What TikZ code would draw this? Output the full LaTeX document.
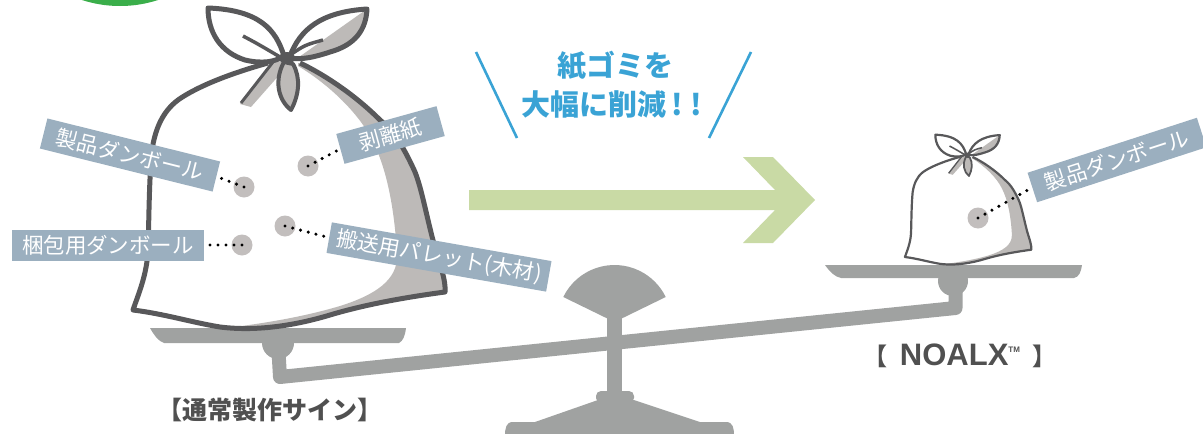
\documentclass[tikz,border=0pt]{standalone}
\usepackage{fontspec}
\newfontfamily\jpfont{Noto Sans CJK JP}
\newfontfamily\latinfont{Liberation Sans}

\definecolor{brandgreen}{HTML}{3AAE4A}
\definecolor{arrowgreen}{HTML}{C9DAA5}
\definecolor{headblue}{HTML}{3AA3D5}
\definecolor{sackline}{HTML}{58585A}
\definecolor{sackshade}{HTML}{BDBAB8}
\definecolor{tagblue}{HTML}{9BAFBF}
\definecolor{spotgray}{HTML}{C2BEBD}
\definecolor{scalegray}{HTML}{A0A2A1}
\definecolor{captiongray}{HTML}{505050}

% outline of the sack body (open at the neck)
\def\sackbody{(268,63) .. controls (225,75) and (195,88) .. (178,100)
  .. controls (162,112) and (155,130) .. (152,150)
  .. controls (149,180) and (149,220) .. (148,250)
  .. controls (147,275) and (138,295) .. (133,310)
  .. controls (165,314) and (190,322) .. (220,327)
  .. controls (260,332) and (300,324) .. (330,315)
  .. controls (370,303) and (415,296) .. (445,292)
  .. controls (446,280) and (440,265) .. (435,248)
  .. controls (425,210) and (422,190) .. (415,172)
  .. controls (405,150) and (395,132) .. (380,120)
  .. controls (355,95) and (325,75) .. (300,63)}
\def\leftear{(284,56) .. controls (276,30) and (260,10) .. (208,8)
  .. controls (208,32) and (220,52) .. (245,60)
  .. controls (262,64) and (275,62) .. (284,56)}
\def\rightear{(290,56) .. controls (300,30) and (320,12) .. (367,9)
  .. controls (366,30) and (355,45) .. (330,52)
  .. controls (315,57) and (302,60) .. (290,58)}

% a tied sack; #1 = outline width
\newcommand\drawsack[1]{%
  \fill[white] \sackbody -- cycle;
  \begin{scope}
    \clip \sackbody -- cycle;
    \fill[sackshade] (298,66) .. controls (330,85) and (360,115) .. (372,140)
      .. controls (388,170) and (395,215) .. (397,255)
      .. controls (398,280) and (375,295) .. (340,306)
      .. controls (300,318) and (250,326) .. (205,330)
      -- (205,345) -- (470,345) -- (470,40) -- (298,40) -- cycle;
  \end{scope}
  \draw[sackline, line width=#1, line join=round] \sackbody;
  % hanging ends of the tie
  \fill[sackshade] (274,60) -- (289,64) -- (251,107) -- (240,104) -- cycle;
  \draw[sackline, line width=0.6*#1] (273,62) -- (241,103);
  \filldraw[fill=sackshade, draw=sackline, line width=0.8*#1, line join=round]
    (284,62) .. controls (274,80) and (278,100) .. (291,110)
    .. controls (299,95) and (301,78) .. (293,64) -- cycle;
  % ears of the tie
  \filldraw[fill=white, draw=sackline, line width=#1, line join=round] \leftear -- cycle;
  \draw[sackline, line width=0.7*#1] (243,36) .. controls (258,44) .. (280,57);
  \fill[white] \rightear -- cycle;
  \begin{scope}
    \clip \rightear -- cycle;
    \fill[sackshade] (292,62) -- (367,9) -- (372,64) -- cycle;
  \end{scope}
  \draw[sackline, line width=#1, line join=round] \rightear -- cycle;
  \draw[sackline, line width=0.7*#1] (323,40) .. controls (305,45) .. (290,55);
  \fill[sackline] (287,58) ellipse (8 and 6);
}

\begin{document}
\begin{tikzpicture}[x=1pt, y=-1pt,
  tag/.style={fill=tagblue, text=white, inner xsep=0pt, inner ysep=0pt,
    minimum height=31pt, font=\jpfont\fontsize{21.5}{22}\selectfont},
  spot/.style={circle, fill=spotgray, minimum size=21pt, inner sep=0pt},
  leader/.style={line width=3.4pt, dash pattern=on 0pt off 8pt, line cap=round, black},
  scalepart/.style={fill=scalegray},
  headline/.style={text=headblue, font=\jpfont\bfseries\fontsize{29}{30}\selectfont},
  slash/.style={draw=headblue, line width=2.6pt}]
\useasboundingbox (0,0) rectangle (1203,434);

% corner badge
\fill[brandgreen] (120,-117) circle (123);

% balance: stand
\fill[scalepart] (614.5,322) -- +(206:57) arc[start angle=206, end angle=334, radius=57] -- cycle;
\draw[scalegray, line width=15pt] (614.5,318) -- (614.5,396);
\fill[scalepart, rounded corners=5pt] (596,391) rectangle (634,403);
\fill[scalepart] (598,400) -- (634,400) -- (700,422) -- (726,422)
  .. controls (733,422) and (734,428) .. (734,436) -- (505,436)
  .. controls (505,428) and (506,422) .. (513,422) -- (535,422) -- cycle;
% balance: beam, stems, knobs and pans
\draw[scalegray, line width=14pt, line join=round]
  (278,343) -- (280,377) -- (955.5,308) -- (955.5,283);
\fill[scalepart] (278,343) circle (16);
\fill[scalepart] (953,281) circle (15);
\fill[scalepart] (150,328) -- (406,328) .. controls (405,336) and (403,341) .. (399,343)
  -- (164,343) .. controls (158,341) and (154,335) .. (150,328) -- cycle;
\fill[scalepart] (825,265) -- (1082,265) .. controls (1081,272) and (1079,277) .. (1074,278)
  -- (841,278) .. controls (835,277) and (830,272) .. (825,265) -- cycle;

% sacks
\drawsack{5pt}
\begin{scope}[shift={(851.1,131.45)}, scale=0.405]
  \drawsack{2.2pt}
\end{scope}

% reduction arrow
\fill[arrowgreen] (469,190) -- (775,190) -- (743,157) -- (773,157) -- (815,200)
  -- (773,243) -- (743,243) -- (775,210) -- (469,210) -- cycle;

% headline
\draw[slash] (476,52) -- (517,138);
\draw[slash] (751,52) -- (709,138);
\node[headline] (head1) at (615,66) {紙ゴミを};
\node[headline] (head2) at (612,104) {大幅に削減\hspace{5pt}!\hspace{8pt}!};

% contents of the standard sack
\node[spot] (s1) at (244,187) {};
\node[spot] (s2) at (308,166) {};
\node[spot] (s3) at (285,226) {};
\node[spot] (s4) at (242,245) {};
\node[tag, minimum width=178pt, rotate=-14] (t1) at (130,155) {製品ダンボール};
\node[tag, minimum width=104pt, rotate=15.5] (t2) at (390.5,135) {剥離紙};
\node[tag, minimum width=223pt, rotate=-10] (t3) at (439,257) {搬送用パレット(木材)};
\node[tag, minimum width=192pt] (t4) at (108,245) {梱包用ダンボール};
\draw[leader] (s1.center) -- (t1.east);
\draw[leader] (s2.center) -- (t2.west);
\draw[leader] (s3.center) -- (t3.west);
\draw[leader] (s4.center) -- (t4.east);

% contents of the NOALX sack
\node[spot] (s5) at (978,218) {};
\node[tag, minimum width=178pt, rotate=18] (t5) at (1117,160) {製品ダンボール};
\draw[leader] (s5.center) -- (t5.west);

% captions
\node[text=captiongray, font=\jpfont\bfseries\fontsize{25}{26}\selectfont] (cap1) at (270,410) {【通常製作サイン】};
\node[text=captiongray, inner sep=0pt] (cap2) at (960,356)
  {{\jpfont\bfseries\fontsize{24}{24}\selectfont 【}\hspace{12pt}{\latinfont\bfseries\fontsize{31}{31}\selectfont NOALX}\raisebox{13pt}{\latinfont\bfseries\fontsize{8}{8}\selectfont TM}\hspace{12pt}{\jpfont\bfseries\fontsize{24}{24}\selectfont 】}};
\end{tikzpicture}
\end{document}
